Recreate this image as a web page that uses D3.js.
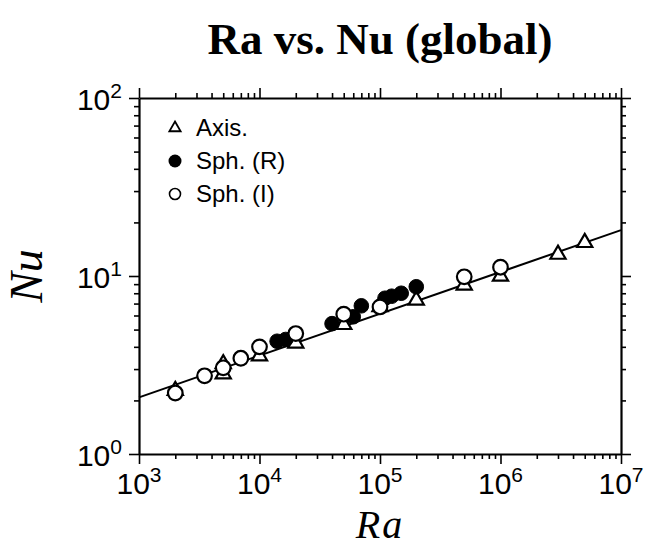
<!DOCTYPE html>
<html>
<head>
<meta charset="utf-8">
<script src="https://cdn.jsdelivr.net/npm/d3@7"></script>
<style>
  body { margin: 0; background: #fff; }
  svg { display: block; }
</style>
</head>
<body>
<div id="chart"></div>
<script>
// values
var axisRa = [2e3, 5e3, 5e3, 1e4, 2e4, 5e4, 1e5, 2e5, 5e5, 1e6, 3e6, 5e6];
var axisNu = [2.3, 3.25, 2.85, 3.6, 4.25, 5.4, 6.8, 7.4, 9.0, 10.1, 13.4, 15.6];

var sphRRa = [1.4e4, 1.65e4, 4e4, 6e4, 7e4, 1.1e5, 1.25e5, 1.5e5, 2e5];
var sphRNu = [4.3, 4.4, 5.4, 5.9, 6.8, 7.5, 7.7, 8.0, 8.7];

var sphIRa = [2e3, 3.5e3, 5e3, 7e3, 1e4, 2e4, 5e4, 1e5, 5e5, 1e6];
var sphINu = [2.2, 2.75, 3.05, 3.45, 4.0, 4.75, 6.1, 6.7, 9.9, 11.2];

var fitRa = [1e3, 1e7];
var fitNu = [2.08, 18.1];

var xDecades = [3, 4, 5, 6, 7];
var yDecades = [0, 1, 2];
var legendNames = ["Axis.", "Sph. (R)", "Sph. (I)"];

var width = 651, height = 548;
var margin = {top: 98, right: 30, bottom: 94, left: 139};

var svg = d3.select("#chart").append("svg")
    .attr("width", width)
    .attr("height", height);

var x = d3.scaleLog().domain([1e3, 1e7]).range([margin.left, width - margin.right]);
var y = d3.scaleLog().domain([1, 100]).range([height - margin.bottom, margin.top]);

// major + minor tick values
function logTicks(lo, hi) {
    var t = [];
    for (var e = lo; e < hi; e++) {
        for (var m = 1; m < 10; m++) t.push(m * Math.pow(10, e));
    }
    t.push(Math.pow(10, hi));
    return t;
}
function isMajor(v) {
    var l = Math.log10(v);
    return Math.abs(l - Math.round(l)) < 1e-9;
}

var xt = logTicks(3, 7), yt = logTicks(0, 2);

function styleAxis(g) {
    g.select(".domain").attr("stroke", "#000").attr("stroke-width", 2.2);
    g.selectAll(".tick line")
        .attr("stroke", "#000")
        .attr("stroke-width", 1.6);
}

var axes = [
    {ax: d3.axisBottom(x).tickValues(xt), tr: "translate(0," + y.range()[0] + ")", dir: "y2", sign: 1},
    {ax: d3.axisTop(x).tickValues(xt), tr: "translate(0," + y.range()[1] + ")", dir: "y2", sign: -1},
    {ax: d3.axisLeft(y).tickValues(yt), tr: "translate(" + x.range()[0] + ",0)", dir: "x2", sign: -1},
    {ax: d3.axisRight(y).tickValues(yt), tr: "translate(" + x.range()[1] + ",0)", dir: "x2", sign: 1}
];
axes.forEach(function(a) {
    var g = svg.append("g")
        .attr("transform", a.tr)
        .call(a.ax.tickFormat("").tickSizeOuter(0));
    styleAxis(g);
    g.selectAll(".tick line").attr(a.dir, function(d) { return a.sign * (isMajor(d) ? 10 : 5); });
});

// tick labels with superscripts
var xl = svg.append("g")
    .attr("font-family", "'Liberation Sans', Arial, sans-serif")
    .attr("fill", "#000");
xDecades.forEach(function(e) {
    var t = xl.append("text")
        .attr("x", x(Math.pow(10, e)))
        .attr("y", 494)
        .attr("text-anchor", "middle")
        .attr("font-size", 30);
    t.append("tspan").text("10");
    t.append("tspan").attr("dy", -12).attr("font-size", 21).text(e);
});
yDecades.forEach(function(e) {
    var t = xl.append("text")
        .attr("x", 122)
        .attr("y", y(Math.pow(10, e)) + 12)
        .attr("text-anchor", "end")
        .attr("font-size", 30);
    t.append("tspan").text("10");
    t.append("tspan").attr("dy", -12).attr("font-size", 21).text(e);
});

// fit line
svg.append("path")
    .datum(d3.zip(fitRa, fitNu))
    .attr("fill", "none")
    .attr("stroke", "#000")
    .attr("stroke-width", 2)
    .attr("d", d3.line().x(function(d) { return x(d[0]); }).y(function(d) { return y(d[1]); }));

var tri = d3.symbol().type(d3.symbolTriangle).size(100);

svg.append("g").selectAll("path")
    .data(d3.zip(axisRa, axisNu))
    .join("path")
    .attr("d", tri)
    .attr("transform", function(d) { return "translate(" + x(d[0]) + "," + (y(d[1]) + 1) + ")"; })
    .attr("fill", "#fff")
    .attr("stroke", "#000")
    .attr("stroke-width", 2.2);

svg.append("g").selectAll("circle")
    .data(d3.zip(sphRRa, sphRNu))
    .join("circle")
    .attr("cx", function(d) { return x(d[0]); })
    .attr("cy", function(d) { return y(d[1]); })
    .attr("r", 7.3)
    .attr("fill", "#000")
    .attr("stroke", "#000")
    .attr("stroke-width", 1);

svg.append("g").selectAll("circle")
    .data(d3.zip(sphIRa, sphINu))
    .join("circle")
    .attr("cx", function(d) { return x(d[0]); })
    .attr("cy", function(d) { return y(d[1]); })
    .attr("r", 7.3)
    .attr("fill", "#fff")
    .attr("stroke", "#000")
    .attr("stroke-width", 2.2);

// legend
var lg = svg.append("g").attr("transform", "translate(175,128)");
legendNames.forEach(function(name, i) {
    var row = lg.append("g").attr("transform", "translate(0," + (i * 33) + ")");
    if (i === 0) {
        row.append("path").attr("d", d3.symbol().type(d3.symbolTriangle).size(55))
            .attr("fill", "#fff").attr("stroke", "#000").attr("stroke-width", 1.8);
    } else if (i === 1) {
        row.append("circle").attr("r", 6.5).attr("fill", "#000");
    } else {
        row.append("circle").attr("r", 5.5).attr("fill", "#fff")
            .attr("stroke", "#000").attr("stroke-width", 1.6);
    }
    row.append("text")
        .attr("x", 21)
        .attr("y", 8)
        .attr("font-family", "'Liberation Sans', Arial, sans-serif")
        .attr("font-size", 24)
        .text(name);
});

// titles
svg.append("text")
    .attr("x", 380)
    .attr("y", 54)
    .attr("text-anchor", "middle")
    .attr("font-family", "'Liberation Serif', 'Times New Roman', serif")
    .attr("font-weight", "bold")
    .attr("font-size", 45)
    .text("Ra vs. Nu (global)");

svg.append("text")
    .attr("x", 380)
    .attr("y", 538)
    .attr("text-anchor", "middle")
    .attr("font-family", "'Liberation Serif', 'Times New Roman', serif")
    .attr("font-style", "italic")
    .attr("font-size", 40)
    .attr("letter-spacing", 2)
    .text("Ra");

svg.append("text")
    .attr("transform", "translate(42," + ((margin.top + height - margin.bottom) / 2) + ") rotate(-90)")
    .attr("text-anchor", "middle")
    .attr("font-family", "'Liberation Serif', 'Times New Roman', serif")
    .attr("font-style", "italic")
    .attr("font-size", 46)
    .text("Nu");
</script>
</body>
</html>
